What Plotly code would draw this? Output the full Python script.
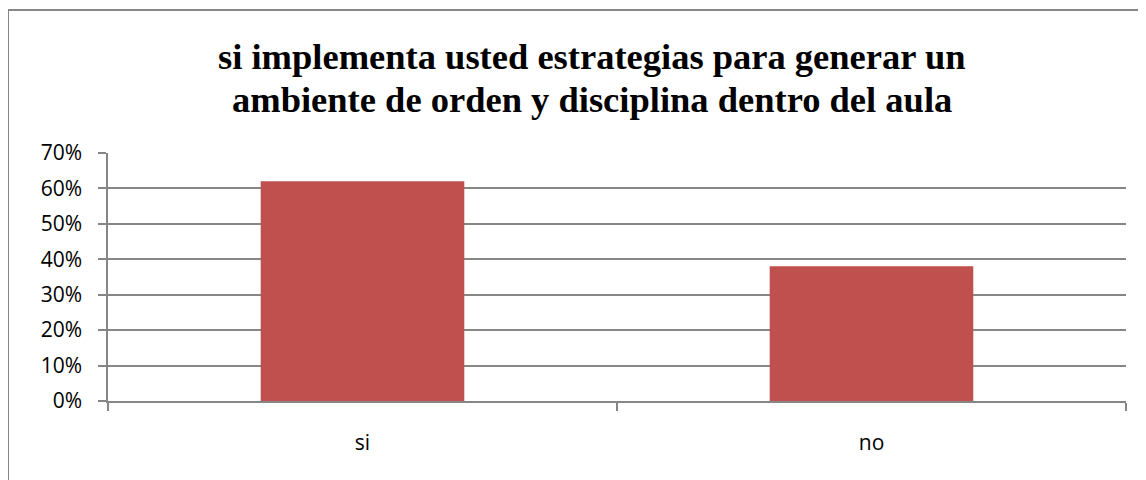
import plotly.graph_objects as go

categories = ["si", "no"]
values = [0.62, 0.38]
title_lines = ["si implementa usted estrategias para generar un",
               "ambiente de orden y disciplina dentro del aula"]

# browser body margin offsets the figure by 8px
OFF = 8
W, H = 1146 - OFF, 480 - OFF
ML, MR, MT, MB = 108 - OFF, 20, 153 - OFF, 79
PW = W - ML - MR
PH = H - MT - MB

def px_x(x):  # page x -> paper
    return (x - OFF - ML) / PW

def px_y(y):  # page y -> paper
    return (H - MB - (y - OFF)) / PH

grey = "#868686"
sans = "Open Sans"

fig = go.Figure(go.Bar(
    x=categories, y=values,
    marker=dict(color="#C0504D", line=dict(width=0)),
    hoverinfo="skip",
))

title_y = [56, 99]
for t, yy in zip(title_lines, title_y):
    fig.add_annotation(
        text="<b>%s</b>" % t, xref="paper", yref="paper",
        x=px_x(592), y=px_y(yy), xanchor="center", yanchor="middle",
        showarrow=False,
        font=dict(family="Times New Roman", size=36.5, color="black"),
    )

fig.update_layout(
    width=W, height=H,
    margin=dict(l=ML, r=MR, t=MT, b=MB),
    paper_bgcolor="white", plot_bgcolor="white",
    bargap=0.6,
    showlegend=False,
    shapes=[
        dict(type="line", xref="paper", yref="paper",
             x0=px_x(8), x1=px_x(1170), y0=px_y(10), y1=px_y(10),
             line=dict(color=grey, width=2)),
        dict(type="line", xref="paper", yref="paper",
             x0=px_x(8), x1=px_x(8), y0=px_y(10), y1=px_y(520),
             line=dict(color=grey, width=2)),
    ],
)

fig.update_yaxes(
    range=[0, 0.7], dtick=0.1, tickformat=".0%",
    showgrid=True, gridcolor=grey, gridwidth=1.5,
    showline=True, linecolor=grey, linewidth=1.5,
    ticks="outside", ticklen=8, tickcolor=grey, tickwidth=1.5,
    zeroline=False,
    ticklabelstandoff=12,
    tickfont=dict(family=sans, size=21, color="black"),
)
fig.update_xaxes(
    showline=True, linecolor=grey, linewidth=2,
    ticks="outside", ticklen=8, tickcolor=grey, tickwidth=1.5,
    tickson="boundaries",
    showgrid=False,
    ticklabelstandoff=22,
    tickfont=dict(family=sans, size=21, color="black"),
)

fig.write_html("out.html")
